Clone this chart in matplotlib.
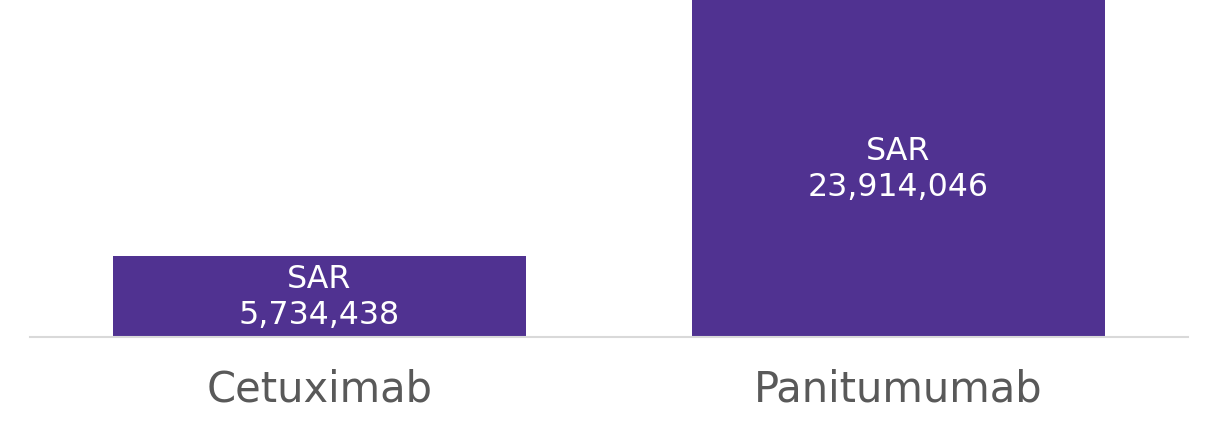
import numpy as np
import matplotlib.pyplot as plt

# drug cost data
drugs = ['Cetuximab', 'Panitumumab']
costs = [5734438, 23914046]

fig = plt.figure(figsize=(12.17, 4.35), dpi=100)
ax = fig.add_axes([30/1217, 97/435, 1158/1217, 338/435])

x = np.arange(len(drugs))
bars = ax.bar(x, costs, width=0.715, color='#503291', zorder=2)

for xi, c in zip(x, costs):
    ax.text(xi, c / 2, 'SAR\n{:,}'.format(c), ha='center', va='center',
            color='white', fontsize=22.8, linespacing=1.2)

ax.set_xlim(-0.5, 1.5)
ax.set_ylim(0, max(costs) * 1.003)
ax.set_xticks(x)
ax.set_xticklabels(drugs, fontsize=30, color='#595959')
ax.tick_params(axis='x', length=0, pad=22)
ax.set_yticks([])
for s in ['top', 'right', 'left']:
    ax.spines[s].set_visible(False)
ax.spines['bottom'].set_color('#d9d9d9')
ax.spines['bottom'].set_linewidth(1.5)

fig.savefig('out.png', dpi=100)
